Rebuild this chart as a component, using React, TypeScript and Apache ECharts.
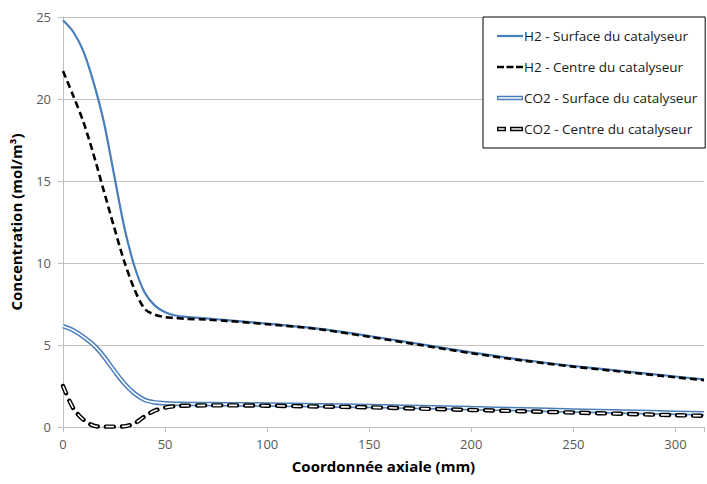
import React, { useEffect, useRef } from "react";
import * as echarts from "echarts";

const xPositions = [0, 5, 10, 15, 20, 25, 30, 35, 40, 45, 50, 55, 60, 70, 80, 100, 125, 150, 175, 200, 225, 250, 275, 300, 314];
const h2Surface = [24.8, 24.1, 22.9, 21.0, 18.6, 15.4, 12.2, 9.8, 8.2, 7.4, 7.0, 6.8, 6.72, 6.62, 6.52, 6.3, 6.0, 5.55, 5.05, 4.55, 4.1, 3.72, 3.4, 3.08, 2.9];
const h2Centre = [21.7, 20.2, 18.6, 16.6, 14.4, 12.2, 10.1, 8.4, 7.2, 6.85, 6.7, 6.65, 6.6, 6.55, 6.47, 6.27, 5.97, 5.5, 5.0, 4.5, 4.06, 3.68, 3.36, 3.03, 2.86];
const co2Surface = [6.15, 5.9, 5.5, 5.0, 4.3, 3.45, 2.65, 2.05, 1.65, 1.5, 1.45, 1.42, 1.41, 1.4, 1.39, 1.37, 1.33, 1.28, 1.22, 1.15, 1.08, 1.01, 0.94, 0.87, 0.83];
const co2Centre = [2.5, 1.15, 0.45, 0.08, 0.02, 0.02, 0.04, 0.22, 0.65, 1.0, 1.18, 1.27, 1.3, 1.32, 1.32, 1.3, 1.25, 1.2, 1.12, 1.04, 0.96, 0.88, 0.8, 0.72, 0.68];

const seriesNames = [
  "H2 - Surface du catalyseur",
  "H2 - Centre du catalyseur",
  "CO2 - Surface du catalyseur",
  "CO2 - Centre du catalyseur",
];
const xAxisTitle = "Coordonnée axiale (mm)";
const yAxisTitle = "Concentration (mol/m³)";

const BLUE = "#4a7ebb";

function pairs(vals: number[]) {
  return xPositions.map((x, i) => [x, vals[i]]);
}

export default function App() {
  const ref = useRef<HTMLDivElement>(null);
  useEffect(() => {
    if (!ref.current) return;
    const chart = echarts.init(ref.current, null, { renderer: "svg" });
    const base = {
      type: "line" as const,
      showSymbol: false,
      symbol: "none",
      smooth: 0.3,
      silent: true,
    };
    chart.setOption({
      animation: false,
      backgroundColor: "#ffffff",
      textStyle: { fontFamily: "Open Sans" },
      grid: { left: 62, top: 17, right: 0, bottom: 57, containLabel: false },
      legend: {
        orient: "vertical",
        left: 483,
        top: 17,
        padding: [12, 8, 12, 14],
        itemWidth: 26,
        itemHeight: 14,
        itemGap: 17,
        backgroundColor: "#ffffff",
        borderColor: "#000000",
        borderWidth: 1,
        symbolKeepAspect: true,
        textStyle: { fontFamily: "Open Sans", fontSize: 13.5, color: "#1a1a1a", padding: [0, 0, 0, -4] },
        data: [
          { name: seriesNames[0], icon: "path://M0,0H26V2.2H0Z", itemStyle: { color: BLUE, borderWidth: 0 } },
          {
            name: seriesNames[1],
            icon: "path://M0,0H7V2.6H0Z M9.5,0H16.5V2.6H9.5Z M19,0H26V2.6H19Z",
            itemStyle: { color: "#000000", borderWidth: 0 },
          },
          {
            name: seriesNames[2],
            icon: "path://M0,0H26V4.4H0Z M1.3,1.4V3H24.7V1.4Z",
            itemStyle: { color: BLUE, borderWidth: 0 },
          },
          {
            name: seriesNames[3],
            icon: "path://M0,0H9V4.4H0Z M1.4,1.4V3H7.6V1.4Z M13,0H26V4.4H13Z M14.4,1.4V3H24.6V1.4Z",
            itemStyle: { color: "#000000", borderWidth: 0 },
          },
        ],
      },
      xAxis: {
        type: "value",
        min: 0,
        max: 314,
        interval: 50,
        name: xAxisTitle,
        nameLocation: "middle",
        nameGap: 31,
        nameTextStyle: { fontFamily: "Open Sans", fontWeight: "bold", fontSize: 15, color: "#000" },
        axisLine: { lineStyle: { color: "#bfbfbf", width: 1 } },
        axisTick: { show: true, length: 5, lineStyle: { color: "#bfbfbf" } },
        axisLabel: {
          color: "#595959",
          fontSize: 13,
          margin: 10,
          formatter: (v: number) => (v % 50 === 0 ? String(v) : ""),
        },
        splitLine: { show: false },
      },
      yAxis: {
        type: "value",
        min: 0,
        max: 25,
        interval: 5,
        name: yAxisTitle,
        nameLocation: "middle",
        nameGap: 40,
        nameTextStyle: { fontFamily: "Open Sans", fontWeight: "bold", fontSize: 15, color: "#000" },
        axisLine: { show: true, lineStyle: { color: "#bfbfbf", width: 1 } },
        axisTick: { show: true, length: 5, lineStyle: { color: "#bfbfbf" } },
        axisLabel: { color: "#595959", fontSize: 13, margin: 12 },
        splitLine: { show: true, lineStyle: { color: "#c8bfbf", width: 1.2 } },
      },
      series: [
        {
          ...base,
          name: seriesNames[0],
          color: BLUE,
          data: pairs(h2Surface),
          lineStyle: { color: BLUE, width: 2.2 },
          z: 3,
        },
        {
          ...base,
          name: seriesNames[1],
          color: "#000000",
          data: pairs(h2Centre),
          lineStyle: { color: "#000000", width: 2.6, type: [7, 4] },
          z: 4,
        },
        {
          ...base,
          name: seriesNames[2],
          color: BLUE,
          data: pairs(co2Surface),
          lineStyle: { color: BLUE, width: 4.6 },
          z: 3,
        },
        {
          ...base,
          name: "co2-surface-inner",
          data: pairs(co2Surface),
          lineStyle: { color: "#ffffff", width: 1.6 },
          z: 3,
        },
        {
          ...base,
          name: seriesNames[3],
          color: "#000000",
          data: pairs(co2Centre),
          lineStyle: { color: "#000000", width: 4.4, type: [8, 8], cap: "round" },
          z: 4,
        },
        {
          ...base,
          name: "co2-centre-inner",
          data: pairs(co2Centre),
          lineStyle: { color: "#ffffff", width: 1.6, type: [8, 8], cap: "butt" },
          z: 4,
        },
      ],
    });
    return () => chart.dispose();
  }, []);
  return (
    <div
      ref={ref}
      style={{ position: "absolute", left: 0, top: 0, width: 707, height: 484, background: "#fff" }}
    />
  );
}
